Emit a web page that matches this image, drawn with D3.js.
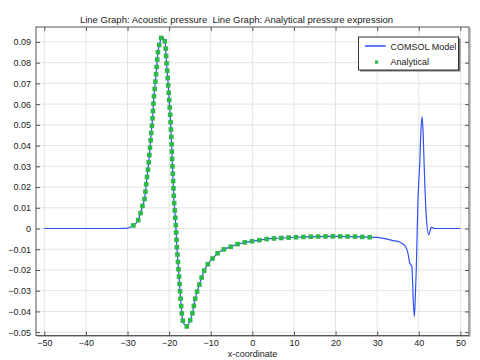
<!DOCTYPE html>
<html>
<head>
<meta charset="utf-8">
<script src="https://cdn.jsdelivr.net/npm/d3@7"></script>
<style>
  html, body { margin: 0; padding: 0; background: #fff; }
  svg { display: block; }
  text { font-family: "Liberation Sans", Arial, sans-serif; fill: #222; }
</style>
</head>
<body>
<svg id="chart" width="480" height="360"></svg>
<script>
// ---- Data ----
const titleText = "Line Graph: Acoustic pressure  Line Graph: Analytical pressure expression";
const xLabelText = "x-coordinate";
const seriesNames = ["COMSOL Model", "Analytical"];

const xTicks = [-50, -40, -30, -20, -10, 0, 10, 20, 30, 40, 50];
const yTicks = [-0.05, -0.04, -0.03, -0.02, -0.01, 0, 0.01, 0.02, 0.03, 0.04, 0.05, 0.06, 0.07, 0.08, 0.09];

// Analytical pressure expression (range covered by the markers)
const analyticalX = [-28.6, -27.4, -26.85, -26.4, -25.96, -25.7, -25.4, -24.9, -24.6, -24.3, -24.0, -23.65, -23.3, -23.0, -22.7, -22.2, -21.7, -21.2, -20.9, -20.7, -20.4, -20.05, -19.7, -19.45, -19.25, -19.05, -18.85, -18.6, -18.37, -18.2, -17.95, -17.7, -17.45, -17.2, -16.9, -16.5, -15.7, -14.9, -14.4, -13.7, -12.7, -11.5, -10.6, -9.5, -8.2, -6.7, -5.1, -3.5, 0, 1.75, 3.35, 6, 10.6, 15, 19.4, 24, 28.2];
const analyticalY = [0.0015, 0.0042, 0.0076, 0.011, 0.0138, 0.0177, 0.0235, 0.032, 0.039, 0.046, 0.053, 0.0637, 0.0709, 0.078, 0.0849, 0.0898, 0.0926, 0.0912, 0.0885, 0.0817, 0.0743, 0.0637, 0.0532, 0.0426, 0.032, 0.0235, 0.0142, 0.0074, 0.0002, -0.007, -0.0143, -0.021, -0.0283, -0.0352, -0.0421, -0.0458, -0.0472, -0.044, -0.0408, -0.0336, -0.0268, -0.020, -0.0169, -0.0143, -0.0117, -0.0099, -0.0087, -0.0075, -0.0061, -0.0056, -0.0051, -0.0047, -0.0042, -0.0039, -0.0038, -0.0039, -0.0042];

// COMSOL model: left tail, then same as analytical, then the reflected pulse on the right
const comsolLeftX = [-50, -40, -32, -31, -30, -29.3];
const comsolLeftY = [0, 0, 0, 0.00005, 0.0002, 0.0007];
const comsolRightX = [30, 33.8, 35.5, 36.8, 37.4, 37.8, 38.2, 38.35, 38.45, 38.6, 38.94, 39.2, 39.42, 39.8, 40.2, 40.5, 40.77, 41.05, 41.3, 41.8, 42.4, 42.75, 43.05, 43.6, 44.2, 50];
const comsolRightY = [-0.0043, -0.0058, -0.0066, -0.0087, -0.012, -0.0165, -0.0178, -0.0185, -0.0225, -0.031, -0.0424, -0.031, -0.0183, 0.0138, 0.030, 0.046, 0.054, 0.046, 0.030, 0.0058, -0.003, -0.0008, 0.0007, 0.0001, 0, 0];

// ---- Layout ----
const svg = d3.select("#chart");
const m = { left: 36, right: 469, top: 27, bottom: 335.5 };
const x = d3.scaleLinear().domain([-52, 52.07]).range([m.left, m.right]);
const y = d3.scaleLinear().domain([-0.0516, 0.0972]).range([m.bottom, m.top]);

const comsolX = comsolLeftX.concat(analyticalX, comsolRightX);
const comsolY = comsolLeftY.concat(analyticalY, comsolRightY);
const comsolData = comsolX.map((v, i) => [v, comsolY[i]]);
const analyticalData = analyticalX.map((v, i) => [v, analyticalY[i]]);

// Grid
const grid = svg.append("g");
grid.selectAll("line.gx").data(xTicks).join("line")
  .attr("x1", d => x(d)).attr("x2", d => x(d))
  .attr("y1", m.top).attr("y2", m.bottom)
  .attr("stroke", "#e4e4e4").attr("stroke-width", 1);
grid.selectAll("line.gy").data(yTicks).join("line")
  .attr("y1", d => y(d)).attr("y2", d => y(d))
  .attr("x1", m.left).attr("x2", m.right)
  .attr("stroke", "#e4e4e4").attr("stroke-width", 1);

// Axes (ticks inward on all four sides)
const fmtY = d => (Math.abs(d) < 1e-9 ? "0" : d3.format(".2f")(d));
const axB = svg.append("g").attr("transform", `translate(0,${m.bottom})`)
  .call(d3.axisBottom(x).tickValues(xTicks).tickSize(-4).tickPadding(4.6).tickFormat(d3.format("d")));
const axT = svg.append("g").attr("transform", `translate(0,${m.top})`)
  .call(d3.axisTop(x).tickValues(xTicks).tickSize(-4).tickFormat(""));
const axL = svg.append("g").attr("transform", `translate(${m.left},0)`)
  .call(d3.axisLeft(y).tickValues(yTicks).tickSize(-4).tickPadding(5).tickFormat(fmtY));
const axR = svg.append("g").attr("transform", `translate(${m.right},0)`)
  .call(d3.axisRight(y).tickValues(yTicks).tickSize(-4).tickFormat(""));
[axB, axT, axL, axR].forEach(a => {
  a.select(".domain").remove();
  a.selectAll(".tick line").attr("stroke", "#555");
  a.selectAll(".tick text").attr("font-size", 9).attr("fill", "#222")
    .style("font-family", '"Liberation Sans", Arial, sans-serif');
});

// Clip
svg.append("clipPath").attr("id", "clip").append("rect")
  .attr("x", m.left).attr("y", m.top).attr("width", m.right - m.left).attr("height", m.bottom - m.top);

const line = d3.line().x(d => x(d[0])).y(d => y(d[1])).curve(d3.curveMonotoneX);

const plot = svg.append("g").attr("clip-path", "url(#clip)");
plot.append("path").datum(comsolData)
  .attr("d", line).attr("fill", "none")
  .attr("stroke", "#2f52f5").attr("stroke-width", 1.2);

// Analytical markers: placed at equal distances along the analytical curve
const guide = plot.append("path").datum(analyticalData)
  .attr("d", line).attr("fill", "none").attr("stroke", "none");
const node = guide.node();
const L = node.getTotalLength();
const nSeg = Math.round(L / 7.35);
const markerPts = d3.range(nSeg + 1).map(i => node.getPointAtLength(i * L / nSeg));
plot.selectAll("rect.mk").data(markerPts).join("rect")
  .attr("class", "mk")
  .attr("x", p => p.x - 2.3).attr("y", p => p.y - 2.3)
  .attr("width", 4.6).attr("height", 4.6)
  .attr("fill", "#2fb84a");

// Frame
svg.append("rect").attr("x", m.left).attr("y", m.top)
  .attr("width", m.right - m.left).attr("height", m.bottom - m.top)
  .attr("fill", "none").attr("stroke", "#555").attr("stroke-width", 1);
svg.append("line").attr("x1", m.right + 1).attr("x2", m.right + 1)
  .attr("y1", m.top + 1).attr("y2", m.bottom + 1).attr("stroke", "#999").attr("stroke-width", 1);
svg.append("line").attr("x1", m.left + 1).attr("x2", m.right + 1)
  .attr("y1", m.bottom + 1).attr("y2", m.bottom + 1).attr("stroke", "#aaa").attr("stroke-width", 0.8);

// Title and axis label
svg.append("text").attr("x", 236.5).attr("y", 22.5).attr("text-anchor", "middle")
  .attr("font-size", 9.5).style("white-space", "pre").attr("xml:space", "preserve").text(titleText);
svg.append("text").attr("x", (m.left + m.right) / 2).attr("y", 357).attr("text-anchor", "middle")
  .attr("font-size", 9).text(xLabelText);

// Legend
const lg = svg.append("g");
lg.append("rect").attr("x", 360).attr("y", 38.5).attr("width", 100.5).attr("height", 33)
  .attr("fill", "#777");
lg.append("rect").attr("x", 358.5).attr("y", 37).attr("width", 100).attr("height", 33)
  .attr("fill", "#fff").attr("stroke", "#333").attr("stroke-width", 1);
lg.append("line").attr("x1", 365).attr("x2", 385.7).attr("y1", 46).attr("y2", 46)
  .attr("stroke", "#2f52f5").attr("stroke-width", 1.5);
lg.append("rect").attr("x", 375).attr("y", 60.5).attr("width", 3.2).attr("height", 3.2).attr("fill", "#2fb84a");
lg.append("text").attr("x", 390.5).attr("y", 49.5).attr("font-size", 9).text(seriesNames[0]);
lg.append("text").attr("x", 390.5).attr("y", 64.5).attr("font-size", 9).text(seriesNames[1]);
</script>
</body>
</html>
